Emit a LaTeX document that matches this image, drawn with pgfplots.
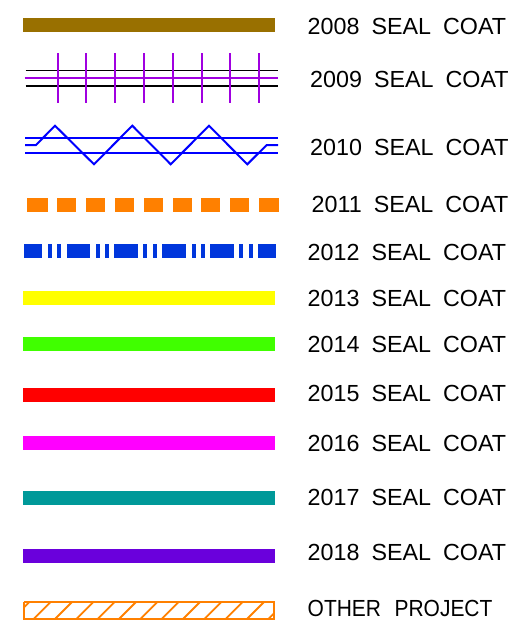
\documentclass[border=0pt]{standalone}
\usepackage{pgfplots}
\pgfplotsset{compat=1.18}
\usepackage{fontspec}
\setmainfont{Liberation Sans}
\definecolor{cbrown}{HTML}{997000}
\definecolor{cpurple}{HTML}{A000E0}
\definecolor{cblue}{HTML}{0000FF}
\definecolor{corange}{HTML}{FF8000}
\definecolor{cblueb}{HTML}{0036DC}
\definecolor{cyellow}{HTML}{FFFF00}
\definecolor{cgreen}{HTML}{40FF00}
\definecolor{cred}{HTML}{FF0000}
\definecolor{cmagenta}{HTML}{FF00FF}
\definecolor{cteal}{HTML}{009999}
\definecolor{cviolet}{HTML}{6A00DC}
\newcommand{\rectbar}[5]{\addplot[draw=none, fill=#1] coordinates {(#2,#4) (#3,#4) (#3,#5) (#2,#5)};}
\newcommand{\lbl}[3]{\node[anchor=base west, inner sep=0pt, font=\fontsize{23.3bp}{28bp}\selectfont] at (axis cs:#1,#2) {#3};}
\newcommand{\sealcoat}[1]{#1\hspace{12bp}SEAL\hspace{12bp}COAT}
\begin{document}
\begin{tikzpicture}
\begin{axis}[
  width=517bp, height=627bp, scale only axis,
  xmin=0, xmax=517, ymin=0, ymax=627, y dir=reverse,
  hide axis, clip=false, no markers, unbounded coords=jump,
]
\path (rel axis cs:0,0) rectangle (rel axis cs:1,1);
% 2008
\rectbar{cbrown}{23}{275}{18}{32}
% 2009
\addplot[black, line width=1.6bp] coordinates {(25.7,70.7) (278,70.7)};
\addplot[black, line width=1.6bp] coordinates {(25.7,86.3) (278,86.3)};
\addplot[cpurple, line width=2bp] coordinates {(24.7,78.3) (278,78.3)};
\addplot[cpurple, line width=2bp] coordinates {
(57.7,53.3) (57.7,103) (nan,nan)
(86.3,53.3) (86.3,103) (nan,nan)
(115,53.3) (115,103) (nan,nan)
(144,53.3) (144,103) (nan,nan)
(172.7,53.3) (172.7,103) (nan,nan)
(201.7,53.3) (201.7,103) (nan,nan)
(230.3,53.3) (230.3,103) (nan,nan)
(259.3,53.3) (259.3,103)};
% 2010
\addplot[cblue, line width=2bp] coordinates {(25,137.7) (278,137.7)};
\addplot[cblue, line width=2bp] coordinates {(25,153.3) (278,153.3)};
\addplot[cblue, line width=2bp] coordinates {(25,145) (36,145) (55,125.7) (94,164.3) (132.3,125.7) (170.7,164.3) (209,125.7) (247.3,164.3) (266.7,145) (278,145)};
% 2011
\rectbar{corange}{26.7}{47.7}{197.7}{211.7}
\rectbar{corange}{57.3}{76.3}{197.7}{211.7}
\rectbar{corange}{86}{105}{197.7}{211.7}
\rectbar{corange}{115}{134}{197.7}{211.7}
\rectbar{corange}{143.7}{163}{197.7}{211.7}
\rectbar{corange}{172.7}{192}{197.7}{211.7}
\rectbar{corange}{201}{220}{197.7}{211.7}
\rectbar{corange}{230}{249}{197.7}{211.7}
\rectbar{corange}{259}{279}{197.7}{211.7}
% 2012
\rectbar{cblueb}{24}{42.3}{244}{258}
\rectbar{cblueb}{47.7}{51.7}{244}{258}
\rectbar{cblueb}{57.3}{61.3}{244}{258}
\rectbar{cblueb}{66.7}{90}{244}{258}
\rectbar{cblueb}{95.7}{99.7}{244}{258}
\rectbar{cblueb}{105.3}{109.3}{244}{258}
\rectbar{cblueb}{114.3}{138}{244}{258}
\rectbar{cblueb}{143.3}{147.3}{244}{258}
\rectbar{cblueb}{153}{157}{244}{258}
\rectbar{cblueb}{162.3}{186}{244}{258}
\rectbar{cblueb}{191.7}{195.7}{244}{258}
\rectbar{cblueb}{201.3}{205.3}{244}{258}
\rectbar{cblueb}{210.3}{234}{244}{258}
\rectbar{cblueb}{239.3}{243.3}{244}{258}
\rectbar{cblueb}{249}{253}{244}{258}
\rectbar{cblueb}{258.3}{276.3}{244}{258}
% solid bars
\rectbar{cyellow}{23}{275}{291}{305}
\rectbar{cgreen}{23}{275}{337.3}{351.3}
\rectbar{cred}{23}{275}{388}{402.3}
\rectbar{cmagenta}{23}{275}{435.7}{449.7}
\rectbar{cteal}{23}{275}{490.7}{504.7}
\rectbar{cviolet}{23}{275}{549.3}{563.3}
% other project
\addplot[corange, line width=2bp] coordinates {(24,601.7) (274,601.7) (274,619.3) (24,619.3) (24,601.7)};
\addplot[corange, line width=1.8bp] coordinates {
(24,607.3) (29.6,601.7) (nan,nan)
(33.3,619.3) (50.9,601.7) (nan,nan)
(54.7,619.3) (72.3,601.7) (nan,nan)
(76,619.3) (93.6,601.7) (nan,nan)
(97.3,619.3) (114.9,601.7) (nan,nan)
(118.7,619.3) (136.3,601.7) (nan,nan)
(140,619.3) (157.6,601.7) (nan,nan)
(161.3,619.3) (178.9,601.7) (nan,nan)
(182.7,619.3) (200.3,601.7) (nan,nan)
(204,619.3) (221.6,601.7) (nan,nan)
(225.3,619.3) (242.9,601.7) (nan,nan)
(246.7,619.3) (264.3,601.7) (nan,nan)
(268,619.3) (274,613.3)};
% labels
\lbl{307.5}{35}{\sealcoat{2008}}
\lbl{310}{87.3}{\sealcoat{2009}}
\lbl{310}{155}{\sealcoat{2010}}
\lbl{311.5}{212.7}{\sealcoat{2011}}
\lbl{307.5}{260}{\sealcoat{2012}}
\lbl{307.5}{306}{\sealcoat{2013}}
\lbl{307.5}{352.7}{\sealcoat{2014}}
\lbl{307.5}{401.7}{\sealcoat{2015}}
\lbl{307.5}{451.7}{\sealcoat{2016}}
\lbl{307.5}{505}{\sealcoat{2017}}
\lbl{307.5}{560}{\sealcoat{2018}}
\lbl{307.5}{616.7}{\scalebox{0.9}[1]{OTHER\hspace{15bp}PROJECT}}
\end{axis}
\end{tikzpicture}
\end{document}
